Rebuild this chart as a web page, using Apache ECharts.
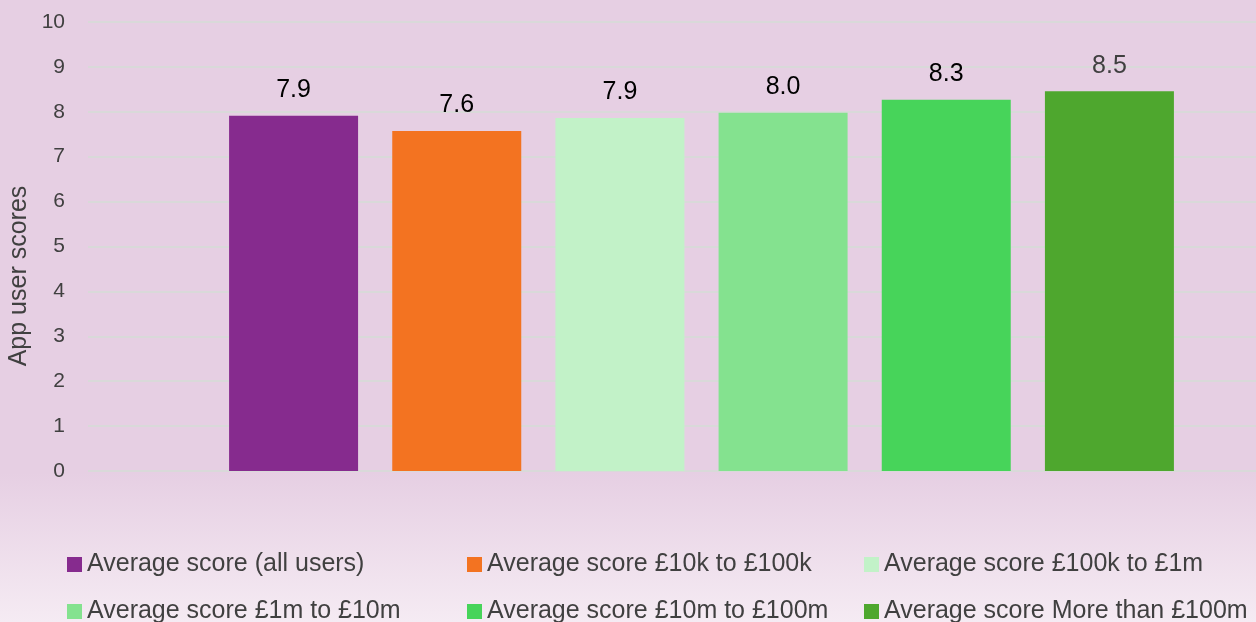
<!DOCTYPE html>
<html>
<head>
<meta charset="utf-8">
<script src="https://cdn.jsdelivr.net/npm/echarts@6/dist/echarts.min.js"></script>
<style>
  html, body { margin: 0; padding: 0; }
  #main { width: 1256px; height: 622px; }
</style>
</head>
<body>
<div id="main"></div>
<script>
  // series names / values / colours
  var seriesNames = [
    'Average score (all users)',
    'Average score £10k to £100k',
    'Average score £100k to £1m',
    'Average score £1m to £10m',
    'Average score £10m to £100m',
    'Average score More than £100m'
  ];
  var scores = [7.91, 7.57, 7.86, 7.98, 8.27, 8.46];
  var colors = ['#862b8e', '#f37321', '#c2f2c8', '#84e28f', '#47d45a', '#4ea72e'];
  var yTicks = [0, 1, 2, 3, 4, 5, 6, 7, 8, 9, 10];

  var font = 'Liberation Sans, Arial, sans-serif';
  var chart = echarts.init(document.getElementById('main'));

  // each series sits in its own slot of the bar grid, slots overlap via barGap -100%
  var series = seriesNames.map(function (name, i) {
    var d = seriesNames.map(function (n, j) { return j === i ? scores[i] : '-'; });
    return {
      name: name,
      type: 'bar',
      xAxisIndex: 1,
      yAxisIndex: 1,
      data: d,
      barWidth: 129,
      barGap: '-100%',
      itemStyle: { color: colors[i] },
      label: {
        show: true,
        position: 'top',
        distance: 13,
        fontFamily: font,
        fontSize: 25,
        color: i === 5 ? '#404040' : '#000000',
        formatter: function (p) { return p.value.toFixed(1); }
      }
    };
  });

  // legend laid out in 3 columns x 2 rows
  var colLeft = [67, 467, 864];
  var rowTop = [552, 599];
  var legends = seriesNames.map(function (name, i) {
    return {
      data: [name],
      left: colLeft[i % 3],
      top: rowTop[Math.floor(i / 3)],
      padding: 0,
      icon: 'rect',
      itemWidth: 15,
      itemHeight: 15,
      textStyle: { fontFamily: font, fontSize: 25, color: '#404040' },
      selectedMode: false
    };
  });

  chart.setOption({
    animation: false,
    backgroundColor: {
      type: 'linear', x: 0, y: 0, x2: 0, y2: 1,
      colorStops: [
        { offset: 0, color: '#e6cfe3' },
        { offset: 0.76, color: '#e6cfe3' },
        { offset: 1, color: '#f5ebf3' }
      ]
    },
    grid: [
      // gridlines + y labels, run to the right edge
      { left: 88, right: 0, top: 22, height: 449 },
      // bars
      { left: 212, width: 979, top: 22, height: 449 }
    ],
    legend: legends,
    xAxis: [
      { type: 'value', gridIndex: 0, show: false },
      {
        type: 'category',
        gridIndex: 1,
        data: seriesNames,
        axisLine: { show: false },
        axisTick: { show: false },
        axisLabel: { show: false }
      }
    ],
    yAxis: [
      {
        type: 'value',
        gridIndex: 0,
        min: yTicks[0],
        max: yTicks[yTicks.length - 1],
        interval: 1,
        axisLine: { show: false },
        axisTick: { show: false },
        axisLabel: { margin: 23, fontFamily: font, fontSize: 21, color: '#404040' },
        splitLine: { lineStyle: { color: '#d9d9d9', width: 2 } }
      },
      {
        type: 'value',
        gridIndex: 1,
        min: yTicks[0],
        max: yTicks[yTicks.length - 1],
        show: false,
        splitLine: { show: false }
      }
    ],
    graphic: [{
      type: 'text',
      x: 19,
      y: 276,
      rotation: Math.PI / 2,
      style: {
        text: 'App user scores',
        fontFamily: font,
        fontSize: 25,
        fill: '#404040',
        textAlign: 'center',
        textVerticalAlign: 'middle'
      }
    }],
    series: series
  });
</script>
</body>
</html>
